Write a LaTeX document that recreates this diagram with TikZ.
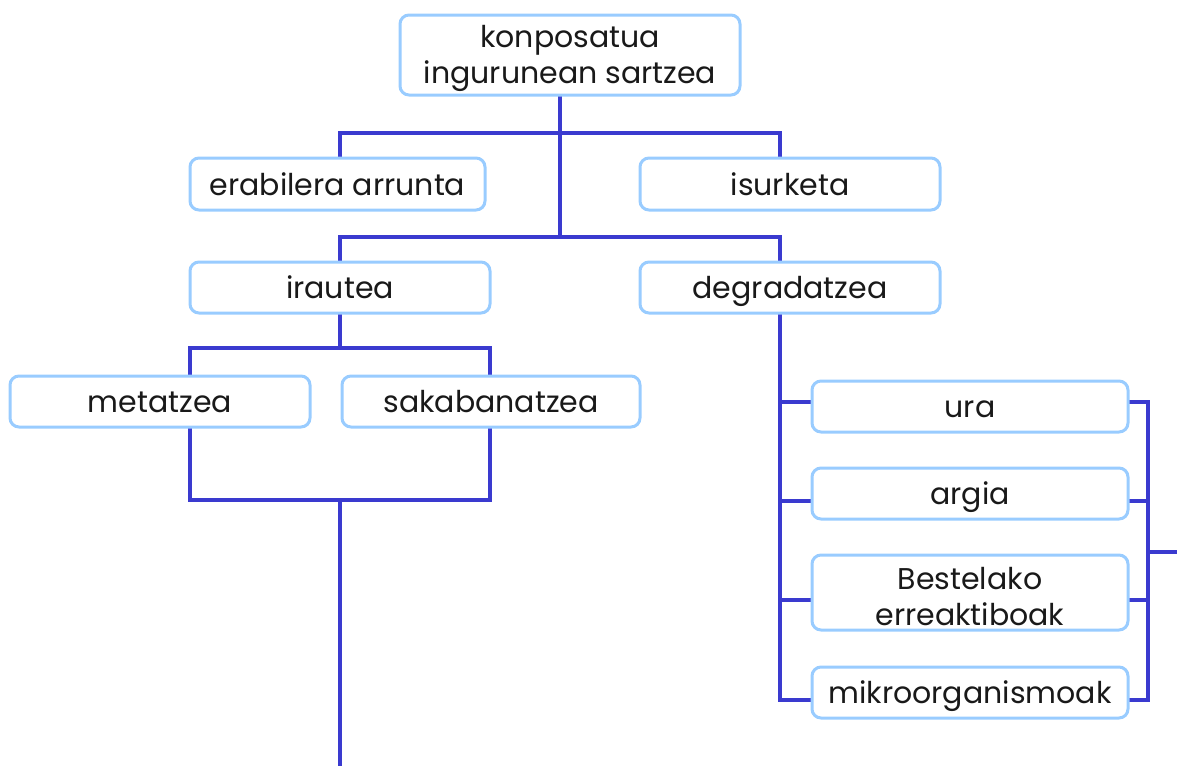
\documentclass[tikz,border=0pt]{standalone}
\usepackage{fontspec}
\setmainfont{Poppins}
\begin{document}
\begin{tikzpicture}[x=1pt,y=-1pt,
  box/.style={draw=boxblue, line width=3pt, rounded corners=9pt, fill=white,
    align=center, inner sep=0pt, font=\fontsize{30}{36}\selectfont, text=black!90},
  oneline/.style={box, text height=24pt, text depth=1.5pt},
  link/.style={draw=linkblue, line width=3.6pt}]
\definecolor{boxblue}{HTML}{99CCFF}
\definecolor{linkblue}{HTML}{3A3ACF}
\useasboundingbox (0,0) rectangle (1177,766);

% junction points of the tree
\coordinate (j0) at (560,95);
\coordinate (j1) at (560,133);
\coordinate (j2) at (560,237);
\coordinate (k1) at (340,348);
\coordinate (k2) at (340,500);
\coordinate (kend) at (340,766);
\coordinate (r0) at (1148,552);
\coordinate (rend) at (1177,552);

% connectors (behind the boxes)
\draw[link] (j0) -- (j2);
\draw[link] (340,158) |- (780,133) -- (780,158);
\draw[link] (340,262) |- (780,237) -- (780,262);
\draw[link] (340,313) -- (k1);
\draw[link] (190,376) |- (490,348) -- (490,376);
\draw[link] (190,427) |- (490,500) -- (490,427);
\draw[link] (k2) -- (kend);
\draw[link] (780,313) |- (812,700);
\foreach \y in {402,501,600} \draw[link] (780,\y) -- (812,\y);
\draw[link] (1128,402) -| (1148,700) -- (1128,700);
\foreach \y in {501,600} \draw[link] (1128,\y) -- (1148,\y);
\draw[link] (r0) -- (rend);

% boxes
\node[box, minimum width=340pt, minimum height=80pt] (top) at (570,55) {\rule{0pt}{30pt}konposatua\\ingurunean sartzea};
\node[oneline, minimum width=295pt, minimum height=52pt] (era) at (337.5,184) {erabilera arrunta};
\node[oneline, minimum width=300pt, minimum height=52pt] (isu) at (790,184) {isurketa};
\node[oneline, minimum width=300pt, minimum height=51pt] (ira) at (340,287.5) {irautea};
\node[oneline, minimum width=300pt, minimum height=51pt] (deg) at (790,287.5) {degradatzea};
\node[oneline, minimum width=300pt, minimum height=51pt] (met) at (160,401.5) {metatzea};
\node[oneline, minimum width=298pt, minimum height=51pt] (sak) at (491,401.5) {sakabanatzea};
\node[oneline, minimum width=316pt, minimum height=51pt] (ura) at (970,406.5) {ura};
\node[oneline, minimum width=316pt, minimum height=51pt] (arg) at (970,493.5) {argia};
\node[box, minimum width=316pt, minimum height=75pt] (bes) at (970,592.5) {\rule{0pt}{30pt}Bestelako\\erreaktiboak};
\node[oneline, minimum width=316pt, minimum height=51pt] (mik) at (970,692.5) {mikroorganismoak};
\end{tikzpicture}
\end{document}
